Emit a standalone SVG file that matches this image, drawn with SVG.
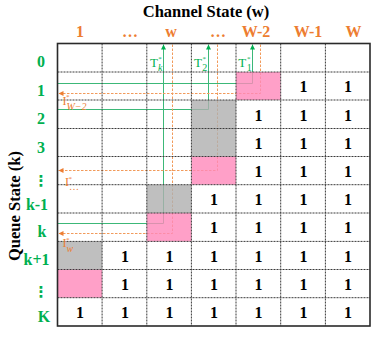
<svg xmlns="http://www.w3.org/2000/svg" width="374" height="337" viewBox="0 0 374 337">
<style>
.title{font-family:"Liberation Serif","Times New Roman",serif;font-weight:bold;font-size:16.5px;fill:#000;text-anchor:middle}
.col{font-family:"Liberation Serif","Times New Roman",serif;font-weight:bold;font-size:16px;fill:#ED7D31;text-anchor:middle}
.row{font-family:"Liberation Serif","Times New Roman",serif;font-weight:bold;font-size:16px;fill:#00B050;text-anchor:middle}
.vdots{font-family:"DejaVu Sans",sans-serif;font-weight:bold;font-size:15px;fill:#00B050;text-anchor:middle}
.one{font-family:"Liberation Serif","Times New Roman",serif;font-weight:bold;font-size:16px;fill:#000;text-anchor:middle}
.t{font-family:"Liberation Serif","Times New Roman",serif;font-size:13px;fill:#00B050}
.i{font-family:"Liberation Serif","Times New Roman",serif;font-size:12px;fill:#ED7D31}
.sup{font-size:7px}
.sub{font-size:10px}
.it{font-style:italic}
.grid{stroke:#3a3a3a;stroke-width:1;stroke-dasharray:2 1;fill:none}
.pink{fill:#FF88BA;fill-opacity:0.8}
.gray{fill:#AFAFAF;fill-opacity:0.8}
.g{stroke:#3CB878;stroke-width:1;fill:none;marker-end:url(#ag)}
.o{stroke:#F19A5B;stroke-width:1;fill:none;stroke-dasharray:2.5 1.5;marker-end:url(#ao)}
</style>
<defs>
<marker id="ag" markerUnits="userSpaceOnUse" markerWidth="6" markerHeight="6" refX="5" refY="2.5" orient="auto">
<path d="M0,0 L5,2.5 L0,5 z" fill="#00B050"/>
</marker>
<marker id="ao" markerUnits="userSpaceOnUse" markerWidth="6" markerHeight="6" refX="5" refY="2.5" orient="auto">
<path d="M0,0 L5,2.5 L0,5 z" fill="#ED7D31"/>
</marker>
</defs>
<rect width="374" height="337" fill="#fff"/>

<text class="title" x="206" y="17">Channel State (w)</text>
<g id="col-labels">
<text class="col" x="80" y="36.5">1</text>
<text class="col" x="130" y="36.5">…</text>
<text class="col" x="171" y="36.5">w</text>
<text class="col" x="218" y="36.5">…</text>
<text class="col" x="256" y="36.5">W-2</text>
<text class="col" x="308" y="36.5">W-1</text>
<text class="col" x="353.5" y="36.5">W</text>
</g>
<text class="title" transform="translate(19.5,206) rotate(-90)">Queue State (k)</text>
<g id="row-labels">
<text class="row" x="41" y="67">0</text>
<text class="row" x="41" y="95.5">1</text>
<text class="row" x="41" y="124">2</text>
<text class="row" x="41" y="152.5">3</text>
<text class="vdots" x="41" y="186">⋮</text>
<text class="row" x="37" y="209.5">k-1</text>
<text class="row" x="42" y="237">k</text>
<text class="row" x="36.5" y="265">k+1</text>
<text class="vdots" x="41" y="297">⋮</text>
<text class="row" x="44" y="321.5">K</text>
</g>

<g id="connectors">
<polyline class="g" points="57.5,83.5 252.5,83.5 252.5,44.5"/>
<polyline class="g" points="57.5,109.5 208.5,109.5 208.5,44.5"/>
<polyline class="g" points="57.5,223.5 163.5,223.5 163.5,44.5"/>
<polyline class="o" points="260.5,44.5 260.5,93.5 58.5,93.5"/>
<polyline class="o" points="217.5,44.5 217.5,170.5 58.5,170.5"/>
<polyline class="o" points="172.5,44.5 172.5,233.5 58.5,233.5"/>
</g>

<g id="cells">
<rect id="c-1-W2" class="pink" x="236" y="72" width="44.7" height="28"/>
<rect id="c-2-dots" class="gray" x="191.4" y="100" width="44.6" height="28.5"/>
<rect id="c-3-dots" class="gray" x="191.4" y="128.5" width="44.6" height="28"/>
<rect id="c-v-dots" class="pink" x="191.4" y="156.5" width="44.6" height="28.2"/>
<rect id="c-k1-w" class="gray" x="146.8" y="184.7" width="44.6" height="28.3"/>
<rect id="c-k-w" class="pink" x="146.8" y="213" width="44.6" height="28.4"/>
<rect id="c-kp1-1" class="gray" x="57.5" y="241.4" width="44.6" height="28.1"/>
<rect id="c-v-1" class="pink" x="57.5" y="269.5" width="44.6" height="28.2"/>
</g>

<g id="grid">
<path class="grid" d="M102.1,43.5V326 M146.8,43.5V326 M191.4,43.5V326 M236,43.5V326 M280.7,43.5V326 M325.4,43.5V326"/>
<path class="grid" d="M57.5,72H370 M57.5,100H370 M57.5,128.5H370 M57.5,156.5H370 M57.5,184.7H370 M57.5,213H370 M57.5,241.4H370 M57.5,269.5H370 M57.5,297.7H370"/>
<rect x="57.5" y="43.5" width="312.5" height="282.5" fill="none" stroke="#2a2a2a" stroke-width="1.6"/>
</g>

<g id="ones">
<text class="one" x="303.5" y="92">1</text><text class="one" x="348" y="92">1</text>
<text class="one" x="258.5" y="120.5">1</text><text class="one" x="303.5" y="120.5">1</text><text class="one" x="348" y="120.5">1</text>
<text class="one" x="258.5" y="148.5">1</text><text class="one" x="303.5" y="148.5">1</text><text class="one" x="348" y="148.5">1</text>
<text class="one" x="258.5" y="176.5">1</text><text class="one" x="303.5" y="176.5">1</text><text class="one" x="348" y="176.5">1</text>
<text class="one" x="214" y="205">1</text><text class="one" x="258.5" y="205">1</text><text class="one" x="303.5" y="205">1</text><text class="one" x="348" y="205">1</text>
<text class="one" x="214" y="233">1</text><text class="one" x="258.5" y="233">1</text><text class="one" x="303.5" y="233">1</text><text class="one" x="348" y="233">1</text>
<text class="one" x="125" y="261.5">1</text><text class="one" x="169.5" y="261.5">1</text><text class="one" x="214" y="261.5">1</text><text class="one" x="258.5" y="261.5">1</text><text class="one" x="303.5" y="261.5">1</text><text class="one" x="348" y="261.5">1</text>
<text class="one" x="125" y="289.5">1</text><text class="one" x="169.5" y="289.5">1</text><text class="one" x="214" y="289.5">1</text><text class="one" x="258.5" y="289.5">1</text><text class="one" x="303.5" y="289.5">1</text><text class="one" x="348" y="289.5">1</text>
<text class="one" x="80" y="317.5">1</text><text class="one" x="125" y="317.5">1</text><text class="one" x="169.5" y="317.5">1</text><text class="one" x="214" y="317.5">1</text><text class="one" x="258.5" y="317.5">1</text><text class="one" x="303.5" y="317.5">1</text><text class="one" x="348" y="317.5">1</text>
</g>

<g id="t-labels">
<text class="t"><tspan x="150" y="67">T</tspan><tspan class="sup" x="158.3" y="60.5">*</tspan><tspan class="sub it" x="158" y="71">k</tspan></text>
<text class="t"><tspan x="194" y="67">T</tspan><tspan class="sup" x="202.6" y="60.5">*</tspan><tspan class="sub" x="202.3" y="71">2</tspan></text>
<text class="t"><tspan x="238.3" y="67">T</tspan><tspan class="sup" x="247" y="60.5">*</tspan><tspan class="sub" x="246.7" y="71">1</tspan></text>
</g>
<g id="i-labels">
<text class="i"><tspan x="62.5" y="104.5">I</tspan><tspan class="sup" x="66" y="99">*</tspan><tspan class="sub it" x="66.5" y="109.5" font-size="11">W−2</tspan></text>
<text class="i"><tspan x="65" y="186">I</tspan><tspan class="sup" x="68.5" y="180.5">*</tspan><tspan class="sub" x="69" y="190" font-size="9">…</tspan></text>
<text class="i"><tspan x="62.5" y="247">I</tspan><tspan class="sup" x="66" y="241.5">*</tspan><tspan class="sub it" x="66.5" y="251.5" font-size="11">w</tspan></text>
</g>
</svg>
